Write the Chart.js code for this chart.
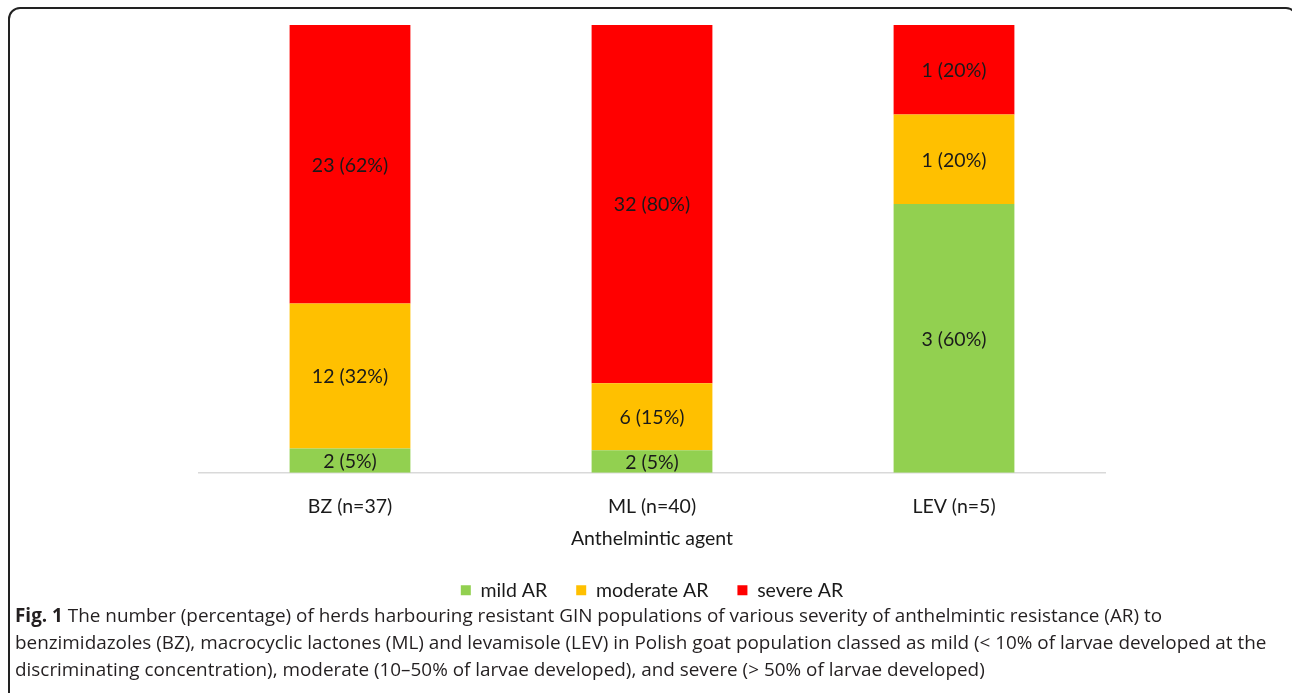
<!DOCTYPE html>
<html>
<head>
<meta charset="utf-8">
<script src="https://cdn.jsdelivr.net/npm/chart.js@4.4.0/dist/chart.umd.min.js"></script>
<style>
  html, body { margin: 0; padding: 0; background: #fff; width: 1292px; height: 693px; overflow: hidden; }
  #frame { position: absolute; left: 8px; top: 7px; width: 1290px; height: 720px; border: 2px solid #222; border-radius: 12px; box-sizing: border-box; }
  #wrap { position: absolute; left: 0; top: 0; width: 1292px; height: 610px; }
  #caption { position: absolute; left: 15px; top: 602px; width: 1275px; font-family: "Open Sans", sans-serif; font-size: 18.9px; line-height: 27px; color: #231f20; white-space: nowrap; }
  #caption b { font-weight: 700; }
</style>
</head>
<body>
<div id="frame"></div>
<div id="wrap"><canvas id="c" width="1292" height="610"></canvas></div>
<div id="caption"><b>Fig. 1</b> The number (percentage) of herds harbouring resistant GIN populations of various severity of anthelmintic resistance (AR) to<br>benzimidazoles (BZ), macrocyclic lactones (ML) and levamisole (LEV) in Polish goat population classed as mild (&lt; 10% of larvae developed at the<br>discriminating concentration), moderate (10–50% of larvae developed), and severe (&gt; 50% of larvae developed)</div>
<script>
const categories = ["BZ (n=37)", "ML (n=40)", "LEV (n=5)"];
const seriesNames = ["mild AR", "moderate AR", "severe AR"];
const mildPct = [5.4, 5, 60];
const moderatePct = [32.4, 15, 20];
const severePct = [62.2, 80, 20];
const mildLabels = ["2 (5%)", "2 (5%)", "3 (60%)"];
const moderateLabels = ["12 (32%)", "6 (15%)", "1 (20%)"];
const severeLabels = ["23 (62%)", "32 (80%)", "1 (20%)"];
const xTitle = "Anthelmintic agent";

const FONT = "Lato";
const FS = 19.5;

const labelPlugin = {
  id: "segLabels",
  afterDatasetsDraw(chart) {
    const ctx = chart.ctx;
    ctx.save();
    ctx.font = FS + "px " + FONT;
    ctx.fillStyle = "#1a1a1a";
    ctx.textAlign = "center";
    ctx.textBaseline = "middle";
    chart.data.datasets.forEach((ds, di) => {
      const meta = chart.getDatasetMeta(di);
      meta.data.forEach((bar, i) => {
        const y = (bar.y + bar.base) / 2;
        ctx.fillText(ds.segLabels[i], bar.x, y + 1);
      });
    });
    ctx.restore();
  }
};

new Chart(document.getElementById("c"), {
  type: "bar",
  data: {
    labels: categories,
    datasets: [
      { label: seriesNames[0], data: mildPct, backgroundColor: "#92D050", segLabels: mildLabels },
      { label: seriesNames[1], data: moderatePct, backgroundColor: "#FFC000", segLabels: moderateLabels },
      { label: seriesNames[2], data: severePct, backgroundColor: "#FF0000", segLabels: severeLabels }
    ]
  },
  options: {
    responsive: false,
    animation: false,
    layout: { padding: { left: 199, right: 187, top: 25, bottom: 0 } },
    datasets: { bar: { barPercentage: 0.4, categoryPercentage: 1.0, borderWidth: 0 } },
    plugins: {
      legend: {
        position: "bottom",
        labels: {
          font: { family: FONT, size: FS },
          color: "#1a1a1a",
          boxWidth: 10, boxHeight: 10,
          padding: 29,
          useBorderRadius: false
        }
      },
      tooltip: { enabled: false }
    },
    scales: {
      x: {
        stacked: true,
        grid: { display: false, drawTicks: false },
        border: { color: "#d9d9d9", width: 1.5 },
        ticks: { font: { family: FONT, size: FS }, color: "#1a1a1a", padding: 22 },
        title: { display: true, text: xTitle, font: { family: FONT, size: FS }, color: "#1a1a1a", padding: { top: -13, bottom: 1 } }
      },
      y: {
        stacked: true,
        display: false,
        min: 0, max: 100
      }
    }
  },
  plugins: [labelPlugin]
});
</script>
</body>
</html>
